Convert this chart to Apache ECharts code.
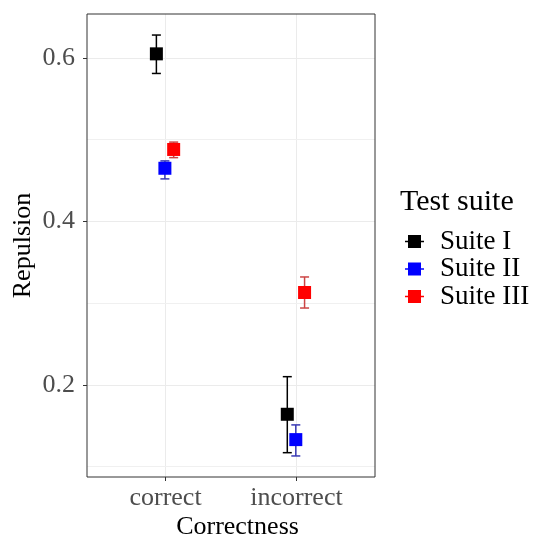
<!DOCTYPE html>
<html>
<head>
<meta charset="utf-8">
<script src="https://cdn.jsdelivr.net/npm/echarts@6/dist/echarts.min.js"></script>
<style>html,body{margin:0;padding:0;background:#fff;}#c{width:534px;height:539px;}</style>
</head>
<body>
<div id="c"></div>
<script>
// ---- data ----
var categories = ['correct', 'incorrect'];
var suites = ['Suite I', 'Suite II', 'Suite III'];
var means = [[0.605, 0.164], [0.465, 0.133], [0.488, 0.313]];
var lower = [[0.581, 0.117], [0.452, 0.113], [0.478, 0.294]];
var upper = [[0.628, 0.210], [0.474, 0.151], [0.497, 0.332]];
var yTicks = [0.2, 0.4, 0.6];
var yMinorTicks = [0.1, 0.3, 0.5];
var xTicks = [1, 2];
// ---- style ----
var squareColors = ['#000000', '#0000ff', '#ff0000'];
var barColors = ['#000000', '#3a3ab4', '#cc4444'];
var dodge = [-0.07, -0.005, 0.062];
var font = 'Liberation Serif';

var all = [].concat.apply([], lower.concat(upper));
var lo = Math.min.apply(null, all), hi = Math.max.apply(null, all);
var pad = (hi - lo) * 0.05;

function renderItem(params, api) {
  var x = api.value(0), m = api.value(1), l = api.value(2), u = api.value(3);
  var c = api.coord([x, m]), cl = api.coord([x, l]), cu = api.coord([x, u]);
  var si = params.seriesIndex;
  var bc = barColors[si];
  var half = 4.5, sz = 13;
  return {
    type: 'group',
    children: [
      {type: 'line', shape: {x1: cl[0], y1: cl[1], x2: cu[0], y2: cu[1]}, style: {stroke: bc, lineWidth: 1.5}},
      {type: 'line', shape: {x1: cl[0] - half, y1: cl[1], x2: cl[0] + half, y2: cl[1]}, style: {stroke: bc, lineWidth: 1.5}},
      {type: 'line', shape: {x1: cu[0] - half, y1: cu[1], x2: cu[0] + half, y2: cu[1]}, style: {stroke: bc, lineWidth: 1.5}},
      {type: 'rect', shape: {x: c[0] - sz / 2, y: c[1] - sz / 2, width: sz, height: sz}, style: {fill: squareColors[si]}}
    ]
  };
}

var series = suites.map(function (name, s) {
  return {
    name: name,
    type: 'custom',
    renderItem: renderItem,
    itemStyle: {color: squareColors[s]},
    encode: {x: 0, y: 1},
    data: categories.map(function (cat, i) {
      return [i + 1 + dodge[s], means[s][i], lower[s][i], upper[s][i]];
    }),
    z: 3 + s
  };
});
series.push({
  type: 'line', data: [], silent: true,
  markLine: {
    silent: true, symbol: 'none', label: {show: false},
    lineStyle: {color: '#f0f0f0', width: 1, type: 'solid'},
    data: yMinorTicks.map(function (v) { return {yAxis: v}; })
  },
  z: 1
});

var icon = 'path://M0,5.75L3,5.75L3,0L16,0L16,5.75L19,5.75L19,7.25L16,7.25L16,13L3,13L3,7.25L0,7.25Z';

var chart = echarts.init(document.getElementById('c'));
chart.setOption({
  animation: false,
  backgroundColor: '#ffffff',
  grid: {left: 87, top: 14, right: 159, bottom: 62, outerBoundsMode: 'none', containLabel: false,
    show: true, borderColor: '#333333', borderWidth: 1, backgroundColor: 'transparent', z: 10},
  title: {text: 'Test suite', left: 395, top: 182, textStyle: {fontFamily: font, fontSize: 30, fontWeight: 'normal', color: '#000'}},
  legend: {
    orient: 'vertical', left: 400, top: 223, itemGap: 0.5, itemWidth: 19, itemHeight: 13,
    data: suites.map(function (s) { return {name: s, icon: icon}; }),
    textStyle: {fontFamily: font, fontSize: 27, lineHeight: 24, color: '#000', padding: [0, 0, 0, 11]}
  },
  xAxis: {
    type: 'value', min: 0.4, max: 2.6,
    name: 'Correctness', nameLocation: 'middle', nameGap: 37, nameMoveOverlap: false,
    nameTextStyle: {fontFamily: font, fontSize: 26, color: '#000', padding: [0, 0, 0, 13]},
    axisLine: {show: false},
    axisTick: {show: true, customValues: xTicks, length: 4, lineStyle: {color: '#333'}},
    axisLabel: {customValues: xTicks, margin: 8, fontFamily: font, fontSize: 26, color: '#4d4d4d',
      formatter: function (v) { return categories[Math.round(v) - 1]; }},
    splitLine: {show: true, lineStyle: {color: '#ebebeb', width: 1}}
  },
  yAxis: {
    type: 'value', min: lo - pad, max: hi + pad,
    name: 'Repulsion', nameLocation: 'middle', nameGap: 51, nameMoveOverlap: false,
    nameTextStyle: {fontFamily: font, fontSize: 26, color: '#000'},
    axisLine: {show: false},
    axisTick: {show: true, customValues: yTicks, length: 4, lineStyle: {color: '#333'}},
    axisLabel: {customValues: yTicks, margin: 12, fontFamily: font, fontSize: 26, color: '#4d4d4d',
      formatter: function (v) { return v.toFixed(1); }},
    splitLine: {show: true, lineStyle: {color: '#ebebeb', width: 1}}
  },
  series: series
});
</script>
</body>
</html>
